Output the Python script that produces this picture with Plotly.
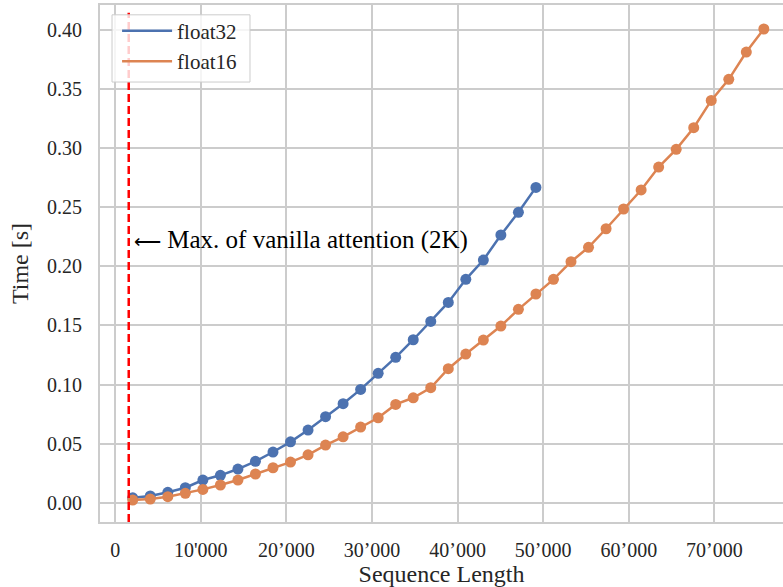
import plotly.graph_objects as go

# Data
seq_f32 = [2048 * k for k in range(1, 25)]
time_f32 = [0.0042, 0.0057, 0.0088, 0.0127, 0.0192, 0.0232, 0.0285, 0.0350, 0.0429, 0.0515,
            0.0615, 0.0728, 0.0838, 0.0959, 0.1095, 0.1230, 0.1379, 0.1534, 0.1695, 0.1890,
            0.2053, 0.2265, 0.2457, 0.2668]
seq_f16 = [2048 * k for k in range(1, 38)]
time_f16 = [0.0023, 0.0031, 0.0051, 0.0080, 0.0113, 0.0150, 0.0192, 0.0243, 0.0296, 0.0344,
            0.0405, 0.0488, 0.0558, 0.0640, 0.0719, 0.0832, 0.0888, 0.0973, 0.1134, 0.1258,
            0.1376, 0.1495, 0.1636, 0.1766, 0.1890, 0.2039, 0.2161, 0.2318, 0.2485, 0.2646,
            0.2840, 0.2990, 0.3173, 0.3404, 0.3582, 0.3813, 0.4008]
vanilla_max = 1580
x_ticks = [0, 10000, 20000, 30000, 40000, 50000, 60000, 70000]
x_ticklabels = ["0", "10'000", "20\u2019000", "30\u2019000", "40\u2019000", "50\u2019000", "60\u2019000", "70\u2019000"]
y_ticks = [0.0, 0.05, 0.10, 0.15, 0.20, 0.25, 0.30, 0.35, 0.40]
y_ticklabels = ["0.00", "0.05", "0.10", "0.15", "0.20", "0.25", "0.30", "0.35", "0.40"]

BLUE = "#4C72B0"
ORANGE = "#DD8452"
GRID = "#cccccc"
TXT = "#262626"
FONT = "Liberation Serif"

fig = go.Figure()
fig.add_trace(go.Scatter(x=seq_f32, y=time_f32, mode="lines+markers", showlegend=False,
                         line=dict(color=BLUE, width=2.5), marker=dict(color=BLUE, size=11)))
fig.add_trace(go.Scatter(x=seq_f16, y=time_f16, mode="lines+markers", showlegend=False,
                         line=dict(color=ORANGE, width=2.5), marker=dict(color=ORANGE, size=11)))
fig.add_trace(go.Scatter(x=[None], y=[None], mode="lines", name="float32",
                         line=dict(color=BLUE, width=2.5)))
fig.add_trace(go.Scatter(x=[None], y=[None], mode="lines", name="float16",
                         line=dict(color=ORANGE, width=2.5)))

fig.add_shape(type="line", xref="x", yref="paper", x0=vanilla_max, x1=vanilla_max, y0=0, y1=0.985,
              line=dict(color="red", width=2.5, dash="8px,4px"), layer="above")
# legend frame (matplotlib-style, semi-transparent)
fig.add_shape(type="rect", xref="paper", yref="paper", x0=0.0176, x1=0.2196, y0=0.851, y1=0.981,
              line=dict(color=GRID, width=1), fillcolor="rgba(255,255,255,0.8)", layer="above")
fig.add_annotation(x=vanilla_max, y=0.2222, xref="x", yref="y", xanchor="left", yanchor="middle",
                   text="<span style='font-size:19px'>\u27f5</span> Max. of vanilla attention (2K)",
                   showarrow=False, xshift=3,
                   font=dict(family=FONT, size=25, color="black"))

fig.update_layout(
    width=783, height=587,
    margin=dict(l=100, r=0, t=5, b=65),
    plot_bgcolor="white", paper_bgcolor="white",
    font=dict(family=FONT, size=20, color=TXT),
    legend=dict(x=0.025, y=0.989, xanchor="left", yanchor="top", itemwidth=50,
                bgcolor="rgba(0,0,0,0)", borderwidth=0,
                font=dict(family=FONT, size=21, color=TXT)),
    xaxis=dict(range=[-1776, 78014], tickvals=x_ticks, ticktext=x_ticklabels,
               tickfont=dict(family=FONT, size=20, color=TXT),
               showgrid=True, gridcolor=GRID, gridwidth=1.5, zeroline=False,
               showline=True, linecolor=GRID, linewidth=2, mirror=True,
               ticks="outside", ticklen=9, tickcolor="rgba(0,0,0,0)",
               title=dict(text="Sequence Length", font=dict(family=FONT, size=24, color=TXT), standoff=6)),
    yaxis=dict(range=[-0.0163, 0.4211], tickvals=y_ticks, ticktext=y_ticklabels,
               tickfont=dict(family=FONT, size=20, color=TXT),
               showgrid=True, gridcolor=GRID, gridwidth=1.5, zeroline=False,
               showline=True, linecolor=GRID, linewidth=2,
               ticks="outside", ticklen=12, tickcolor="rgba(0,0,0,0)",
               title=dict(text="Time [s]", font=dict(family=FONT, size=24, color=TXT), standoff=12)),
)

fig.write_html("out.html")
